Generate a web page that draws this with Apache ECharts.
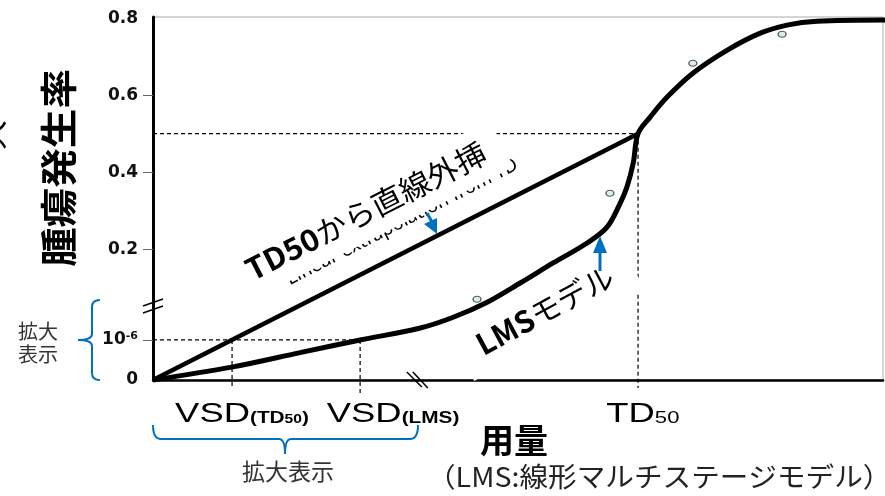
<!DOCTYPE html>
<html>
<head>
<meta charset="utf-8">
<script src="https://cdn.jsdelivr.net/npm/echarts@6/dist/echarts.min.js"></script>
<style>
html, body { margin: 0; padding: 0; background: #fff; }
#chart01 { width: 885px; height: 496px; }
</style>
</head>
<body>
<div id="chart01"></div>
<script>
// dose on the drawn (broken) scale, TD50 = 1
// rate on the drawn (broken) scale: real rate above the break, magnified part below it
var lmsDose  = [0, 0.165, 0.303, 0.427, 0.551, 0.619, 0.689, 0.757, 0.825, 0.895, 0.936, 0.963, 0.977, 0.99, 1.0, 1.025, 1.06, 1.113, 1.184, 1.252, 1.307, 1.369, 1.51];
var lmsRate  = [-0.14, -0.106, -0.069, -0.036, -0.005, 0.023, 0.062, 0.112, 0.164, 0.216, 0.257, 0.319, 0.361, 0.423, 0.5, 0.543, 0.595, 0.657, 0.717, 0.761, 0.782, 0.792, 0.795];
var lineDose = [0, 1.0];
var lineRate = [-0.14, 0.5];
var obsDose  = [0.668, 0.942, 1.113, 1.297];
var obsRate  = [0.070, 0.345, 0.683, 0.758];

var td50Dose  = 1.0;
var td50Rate  = 0.5;
var vsdTd50   = 0.163;
var vsdLms    = 0.427;
var riskLevel = -0.036;   // 10^-6

var yTickValues = [-0.14, -0.036, 0.2, 0.4, 0.6, 0.8];
var yTickLabels = ['0', '10{sup|-6}', '0.2', '0.4', '0.6', '0.8'];
var xTickValues = [0.1835, 0.495, 1.01];
var xTickLabels = ['{big|VSD}{sub|(TD}{sub2|50}{sub|)}', '{big|VSD}{sub|(LMS)}', '{big|TD}{sub3|50}'];

var yMin = -0.14, yMax = 0.803;
var xMin = 0, xMax = 1.505;

function zip(a, b) {
    var out = [];
    for (var i = 0; i < a.length; i++) out.push([a[i], b[i]]);
    return out;
}
function pickLabel(vals, labels, v) {
    for (var i = 0; i < vals.length; i++) {
        if (Math.abs(vals[i] - v) < 1e-6) return labels[i];
    }
    return '';
}
function guide(pts) {
    return {
        type: 'line', data: pts, showSymbol: false, silent: true, clip: false, z: 3,
        lineStyle: { color: '#000', width: 1.2, type: [4, 3] }
    };
}

var JP = '"Noto Sans CJK JP", sans-serif';
var LAT = '"Liberation Sans", Arial, sans-serif';
var DV = '"DejaVu Sans", sans-serif';
var blue = '#0070c0';

var cha01 = echarts.init(document.getElementById('chart01'));
var opt01 = {
    animation: false,
    backgroundColor: '#fff',
    grid: { left: 153, right: 2, top: 17, bottom: 116, show: true, borderColor: '#aaa', borderWidth: 1, outerBoundsMode: 'none' },
    xAxis: {
        type: 'value', min: xMin, max: xMax,
        splitLine: { show: false },
        axisLine: { onZero: false, lineStyle: { color: '#000', width: 2.5 } },
        axisTick: { show: false },
        axisLabel: { show: false }
    },
    yAxis: {
        type: 'value', min: yMin, max: yMax,
        splitLine: { show: false },
        axisLine: { show: true, onZero: false, lineStyle: { color: '#000', width: 3 } },
        axisTick: { show: true, customValues: [riskLevel, 0.2, 0.4, 0.6], length: 10, lineStyle: { color: '#666', width: 1 } },
        axisLabel: {
            customValues: yTickValues,
            margin: 15,
            fontFamily: DV, fontSize: 17, fontWeight: 'bold', color: '#111',
            formatter: function (v) { return pickLabel(yTickValues, yTickLabels, v); },
            rich: {
                sup: { fontFamily: DV, fontSize: 11, fontWeight: 'bold', color: '#111', verticalAlign: 'top', padding: [0, 0, 8, 0] }
            }
        }
    },
    series: [
        guide([[0, td50Rate], [td50Dose, td50Rate]]),
        guide([[td50Dose, td50Rate], [td50Dose, -0.161]]),
        guide([[0, riskLevel], [vsdLms, riskLevel]]),
        guide([[vsdTd50, riskLevel], [vsdTd50, -0.158]]),
        guide([[vsdLms, riskLevel], [vsdLms, -0.179]]),
        {
            name: 'TD50から直線外挿', type: 'line', data: zip(lineDose, lineRate),
            showSymbol: false, clip: false, z: 5,
            lineStyle: { color: '#000', width: 4.5 }
        },
        {
            name: 'LMSモデル', type: 'line', data: zip(lmsDose, lmsRate),
            smooth: 0.35,
            showSymbol: false, clip: false, z: 5,
            lineStyle: { color: '#000', width: 5 }
        },
        {
            name: '実測', type: 'scatter', data: zip(obsDose, obsRate),
            symbol: 'circle', symbolSize: [8, 6], z: 6,
            itemStyle: { color: '#cfe7ea', borderColor: '#333', borderWidth: 1.2 }
        }
    ]
};
cha01.setOption(opt01);

// curly brace made of quadratic curves and straight pieces
function qcurve(x1, y1, cx, cy, x2, y2) {
    return { type: 'bezierCurve', z: 10, shape: { x1: x1, y1: y1, cpx1: cx, cpy1: cy, x2: x2, y2: y2 },
             style: { stroke: blue, lineWidth: 2, fill: null } };
}
function seg(x1, y1, x2, y2, color, w) {
    return { type: 'line', z: 10, shape: { x1: x1, y1: y1, x2: x2, y2: y2 },
             style: { stroke: color || blue, lineWidth: w || 2 } };
}

var yb = cha01.convertToPixel({ gridIndex: 0 }, [0, 0.06]);
var xb = cha01.convertToPixel({ gridIndex: 0 }, [0.546, yMin]);

var rich = {
    big:  { fontFamily: LAT, fontSize: 28, fill: '#000', verticalAlign: 'bottom' },
    sub:  { fontFamily: LAT, fontSize: 16, fontWeight: 'bold', fill: '#000', verticalAlign: 'bottom', padding: [0, 0, 1, 0] },
    sub2: { fontFamily: LAT, fontSize: 12, fontWeight: 'bold', fill: '#000', verticalAlign: 'bottom', padding: [0, 0, 2, 0] },
    sub3: { fontFamily: LAT, fontSize: 17, fill: '#000', verticalAlign: 'bottom', padding: [0, 0, 1, 0] }
};

var gfx = [
    // partly cut glyph at the very left
    { type: 'text', x: -8, y: 135, rotation: Math.PI / 2, z: 10,
      style: { text: '大', font: '30px ' + JP, fill: '#000', align: 'center', verticalAlign: 'middle' } },
    // y title
    { type: 'text', x: 59, y: 168, rotation: Math.PI / 2, scaleX: 1.07, z: 10,
      style: { text: '腫瘍発生率', font: 'bold 37px ' + JP, fill: '#000', align: 'center', verticalAlign: 'middle' } },
    // x title
    { type: 'text', x: 514, y: 440, z: 10,
      style: { text: '用量', font: 'bold 34px ' + JP, fill: '#000', align: 'center', verticalAlign: 'middle' } },
    { type: 'text', x: 427, y: 477, scaleX: 1.06, z: 10,
      style: { text: '（LMS:線形マルチステージモデル）', font: '27px ' + JP, fill: '#222', align: 'left', verticalAlign: 'middle' } },
    // left brace
    qcurve(100, 300, 92, 300, 92, 307), seg(92, 307, 92, 334), qcurve(92, 334, 92, 340, 78, 340),
    qcurve(78, 340, 92, 340, 92, 346), seg(92, 346, 92, 373), qcurve(92, 373, 92, 380, 100, 380),
    { type: 'text', x: 38, y: 343, z: 10,
      style: { text: '拡大\n表示', font: '20px ' + JP, lineHeight: 23, fill: '#333', align: 'center', verticalAlign: 'middle' } },
    // bottom brace
    qcurve(153, 425, 153, 439, 161, 439), seg(161, 439, 279, 439), qcurve(279, 439, 285, 439, 285, 454),
    qcurve(285, 454, 285, 439, 291, 439), seg(291, 439, 410, 439), qcurve(410, 439, 418, 439, 418, 425),
    { type: 'text', x: 288, y: 471, z: 10,
      style: { text: '拡大表示', font: '23px ' + JP, fill: '#333', align: 'center', verticalAlign: 'middle' } },
    // break marks
    seg(yb[0] - 10, yb[1] + 3, yb[0] + 10, yb[1] - 4, '#000', 1.5),
    seg(yb[0] - 10, yb[1] + 10, yb[0] + 10, yb[1] + 3, '#000', 1.5),
    seg(xb[0] - 11, xb[1] - 8, xb[0] + 4, xb[1] + 7, '#000', 1.5),
    seg(xb[0] - 5, xb[1] - 8, xb[0] + 10, xb[1] + 8, '#000', 1.5),
    // hidden english label and japanese label over it
    { type: 'text', x: 402, y: 222, rotation: 0.471, z: 10,
      style: { text: 'Linear extrapolation from TD', font: '19px "Noto Sans", sans-serif', fill: '#000', align: 'center', verticalAlign: 'middle' } },
    { type: 'text', x: 373, y: 209, rotation: 0.471, scaleX: 1.04, z: 11,
      style: {
          text: '{b|TD50}{r|から直線外挿}', align: 'center', verticalAlign: 'middle',
          backgroundColor: '#fff', padding: [10, 18, 13, 4],
          rich: {
              b: { fontFamily: JP, fontWeight: 'bold', fontSize: 30, fill: '#000' },
              r: { fontFamily: JP, fontSize: 30, fill: '#000' }
          }
      } },
    { type: 'text', x: 548, y: 314, rotation: 0.495, z: 11,
      style: {
          text: '{b|LMS}{r|モデル}', align: 'center', verticalAlign: 'middle',
          backgroundColor: '#fff', padding: [4, 22, 14, 20],
          rich: {
              b: { fontFamily: JP, fontWeight: 'bold', fontSize: 30, fill: '#000' },
              r: { fontFamily: JP, fontSize: 30, fill: '#000' }
          }
      } },
    // arrows
    { type: 'line', z: 12, shape: { x1: 427, y1: 213, x2: 432, y2: 222 }, style: { stroke: blue, lineWidth: 3 } },
    { type: 'polygon', z: 12, shape: { points: [[437, 234], [424, 224], [437, 218]] }, style: { fill: blue } },
    { type: 'line', z: 12, shape: { x1: 600, y1: 271, x2: 600, y2: 250 }, style: { stroke: blue, lineWidth: 3 } },
    { type: 'polygon', z: 12, shape: { points: [[600, 236], [593, 253], [607, 253]] }, style: { fill: blue } }
];

// x tick labels, stretched sideways like the original lettering
xTickValues.forEach(function (v, i) {
    var p = cha01.convertToPixel({ gridIndex: 0 }, [v, yMin]);
    gfx.push({ type: 'text', x: p[0], y: p[1] + 34, scaleX: 1.3, z: 10,
               style: { text: xTickLabels[i], rich: rich, align: 'center', verticalAlign: 'middle' } });
});

cha01.setOption({ graphic: gfx });
</script>
</body>
</html>
